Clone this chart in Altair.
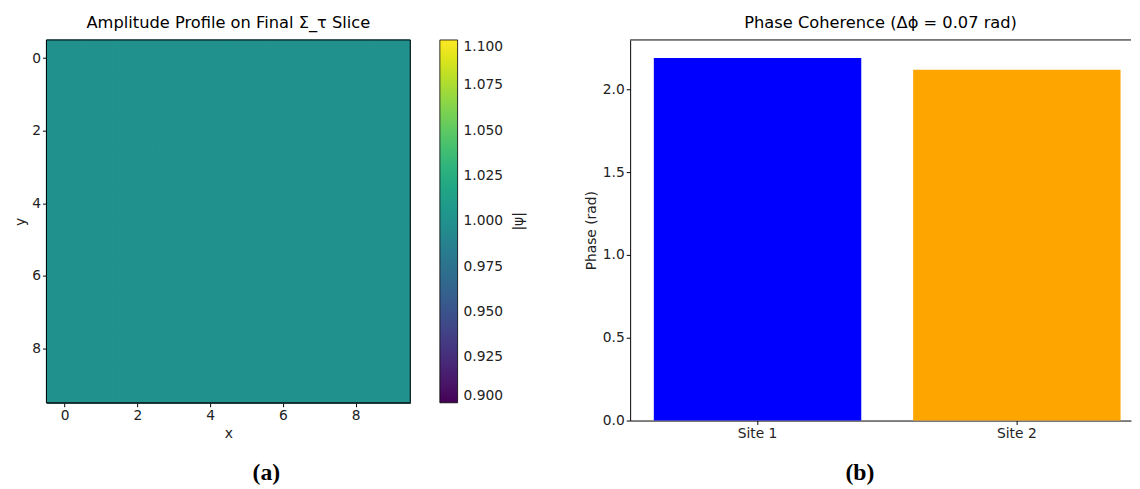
import altair as alt
import pandas as pd

# ---------------- data ----------------
grid_x = [0, 1, 2, 3, 4, 5, 6, 7, 8, 9]
grid_y = [0, 1, 2, 3, 4, 5, 6, 7, 8, 9]
amplitude = [
    [1.0, 1.0, 1.0, 1.0, 1.0, 1.0, 1.0, 1.0, 1.0, 1.0],
    [1.0, 1.0, 1.0, 1.0, 1.0, 1.0, 1.0, 1.0, 1.0, 1.0],
    [1.0, 1.0, 1.0, 1.0, 1.0, 1.0, 1.0, 1.0, 1.0, 1.0],
    [1.0, 1.0, 1.0, 1.0, 1.0, 1.0, 1.0, 1.0, 1.0, 1.0],
    [1.0, 1.0, 1.0, 1.0, 1.0, 1.0, 1.0, 1.0, 1.0, 1.0],
    [1.0, 1.0, 1.0, 1.0, 1.0, 1.0, 1.0, 1.0, 1.0, 1.0],
    [1.0, 1.0, 1.0, 1.0, 1.0, 1.0, 1.0, 1.0, 1.0, 1.0],
    [1.0, 1.0, 1.0, 1.0, 1.0, 1.0, 1.0, 1.0, 1.0, 1.0],
    [1.0, 1.0, 1.0, 1.0, 1.0, 1.0, 1.0, 1.0, 1.0, 1.0],
    [1.0, 1.0, 1.0, 1.0, 1.0, 1.0, 1.0, 1.0, 1.0, 1.0],
]
grid_ticks = [0, 2, 4, 6, 8]
colorbar_ticks = [0.9, 0.925, 0.95, 0.975, 1.0, 1.025, 1.05, 1.075, 1.1]

sites = ["Site 1", "Site 2"]
phases = [2.19, 2.12]
phase_ticks = [0.0, 0.5, 1.0, 1.5, 2.0]

FONT = "DejaVu Sans"
CELL_EDGE = "#21918c"  # viridis midpoint, used to hide anti-aliasing seams between cells

heat_df = pd.DataFrame(
    [{"x": gx, "y": gy, "v": amplitude[gy][gx]} for gy in grid_y for gx in grid_x]
)
bar_df = pd.DataFrame({"site": sites, "phase": phases})

# ---------------- left panel: heatmap ----------------
xscale = alt.Scale(domain=[-0.5, 9.5], nice=False, zero=False)
yscale = alt.Scale(domain=[-0.5, 9.5], nice=False, zero=False, reverse=True)
cscale = alt.Scale(scheme="viridis", domain=[0.9, 1.1])

heat = (
    alt.Chart(heat_df)
    .transform_calculate(
        x0="datum.x - 0.5", x1="datum.x + 0.5", y0="datum.y - 0.5", y1="datum.y + 0.5"
    )
    .mark_rect(stroke=CELL_EDGE, strokeWidth=1)
    .encode(
        x=alt.X("x0:Q", scale=xscale, axis=alt.Axis(values=grid_ticks, title="x", format="d")),
        x2="x1:Q",
        y=alt.Y("y0:Q", scale=yscale, axis=alt.Axis(values=grid_ticks, title="y", format="d")),
        y2="y1:Q",
        color=alt.Color(
            "v:Q",
            scale=cscale,
            legend=alt.Legend(
                type="gradient",
                title=None,
                orient="right",
                direction="vertical",
                gradientLength=368,
                gradientThickness=18,
                gradientStrokeColor="black",
                gradientStrokeWidth=0.8,
                values=colorbar_ticks,
                format=".3f",
                offset=30,
                labelOverlap=False,
                labelBaseline="middle",
                labelOffset=6,
            ),
        ),
    )
)

frame = (
    alt.Chart(pd.DataFrame({"a": [0]}))
    .mark_rect(fill="transparent", stroke="black", strokeWidth=1)
    .encode(
        x=alt.datum(-0.5, scale=xscale),
        x2=alt.datum(9.5),
        y=alt.datum(-0.5, scale=yscale),
        y2=alt.datum(9.5),
    )
)

psi_label = (
    alt.Chart(pd.DataFrame({"t": ["|ψ|"]}))
    .mark_text(angle=270, font=FONT, fontSize=14, color="#222")
    .encode(text="t:N", x=alt.value(479), y=alt.value(184))
)
cap_a = (
    alt.Chart(pd.DataFrame({"t": ["(a)"]}))
    .mark_text(font="Liberation Serif", fontSize=24, fontWeight="bold", color="black")
    .encode(text="t:N", x=alt.value(223), y=alt.value(439))
)

left = (
    alt.layer(heat, frame, psi_label, cap_a)
    .properties(
        width=369,
        height=368,
        title=alt.TitleParams("Amplitude Profile on Final Σ_τ Slice"),
    )
)

# ---------------- right panel: bars ----------------
bars = (
    alt.Chart(bar_df)
    .mark_bar()
    .encode(
        x=alt.X(
            "site:N",
            sort=sites,
            scale=alt.Scale(paddingInner=0.2, paddingOuter=0.0658, align=0.694),
            axis=alt.Axis(title=None, labelAngle=0),
        ),
        y=alt.Y(
            "phase:Q",
            scale=alt.Scale(domain=[0, 2.2995], nice=False),
            axis=alt.Axis(values=phase_ticks, format=".1f", title="Phase (rad)"),
        ),
        color=alt.Color(
            "site:N",
            scale=alt.Scale(domain=sites, range=["#0000ff", "#ffa500"]),
            legend=None,
        ),
    )
)
top_rule = (
    alt.Chart(pd.DataFrame({"a": [0]}))
    .mark_rule(color="black", strokeWidth=1)
    .encode(y=alt.datum(2.2995))
)
cap_b = (
    alt.Chart(pd.DataFrame({"t": ["(b)"]}))
    .mark_text(font="Liberation Serif", fontSize=24, fontWeight="bold", color="black")
    .encode(text="t:N", x=alt.value(233), y=alt.value(439))
)

right = (
    alt.layer(bars, top_rule, cap_b)
    .properties(
        width=508,
        height=386,
        title=alt.TitleParams("Phase Coherence (Δϕ = 0.07 rad)"),
    )
)

chart = (
    alt.hconcat(left, right, spacing=58)
    .resolve_scale(color="independent")
    .resolve_legend(color="independent")
    .properties(padding={"left": 5, "top": 3, "right": 0, "bottom": 0})
    .configure_view(stroke="transparent")
    .configure_axis(
        labelFont=FONT,
        labelFontSize=14,
        labelColor="#222",
        titleFont=FONT,
        titleFontSize=14,
        titleFontWeight="normal",
        titleColor="#222",
        domainColor="black",
        tickColor="black",
        tickSize=4,
        grid=False,
    )
    .configure_legend(labelFont=FONT, labelFontSize=14, labelColor="#222")
    .configure_title(font=FONT, fontSize=16.5, fontWeight="normal", color="black", anchor="middle", offset=8)
)

chart.save("out.html", embed_options={"renderer": "svg", "actions": False})
